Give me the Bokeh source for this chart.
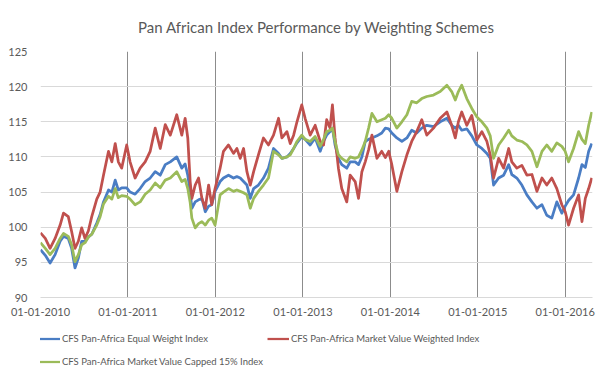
import pandas as pd
from bokeh.plotting import figure
from bokeh.layouts import column
from bokeh.models import Legend, LegendItem, FixedTicker, DatetimeTickFormatter, Range1d
from bokeh.embed import file_html
from bokeh.resources import INLINE

title_text = "Pan African Index Performance by Weighting Schemes"
series_names = ["CFS Pan-Africa Equal Weight Index",
                "CFS Pan-Africa Market Value Weighted Index",
                "CFS Pan-Africa Market Value Capped 15% Index"]
series_colors = ["#4A7DC4", "#C0504D", "#9BBB59"]

dates = [
    "2010-01-01", "2010-01-21", "2010-02-10", "2010-03-03", "2010-03-24", "2010-04-07", "2010-04-27",
    "2010-05-11", "2010-05-25", "2010-06-08", "2010-06-22", "2010-07-06", "2010-07-20", "2010-08-03",
    "2010-08-24", "2010-09-07", "2010-09-21", "2010-10-12", "2010-10-26", "2010-11-09", "2010-11-22",
    "2010-12-06", "2010-12-27", "2011-01-10", "2011-01-31", "2011-02-21", "2011-03-14", "2011-04-04",
    "2011-04-25", "2011-05-16", "2011-06-06", "2011-06-27", "2011-07-24", "2011-08-14", "2011-08-28",
    "2011-09-08", "2011-09-18", "2011-09-25", "2011-10-09", "2011-10-23", "2011-11-06", "2011-11-20",
    "2011-12-04", "2011-12-17", "2011-12-31", "2012-01-21", "2012-02-04", "2012-02-25", "2012-03-17",
    "2012-03-31", "2012-04-14", "2012-04-28", "2012-05-12", "2012-05-26", "2012-06-09", "2012-06-29",
    "2012-07-20", "2012-08-10", "2012-08-31", "2012-09-21", "2012-10-05", "2012-10-26", "2012-11-09",
    "2012-11-23", "2012-12-07", "2012-12-27", "2013-01-10", "2013-01-31", "2013-02-21", "2013-03-14",
    "2013-03-28", "2013-04-10", "2013-04-24", "2013-05-04", "2013-05-15", "2013-05-29", "2013-06-12",
    "2013-07-03", "2013-07-17", "2013-08-07", "2013-08-21", "2013-09-04", "2013-09-18", "2013-10-02",
    "2013-10-16", "2013-11-06", "2013-11-26", "2013-12-11", "2013-12-25", "2014-01-07", "2014-01-28",
    "2014-02-18", "2014-03-11", "2014-03-31", "2014-04-21", "2014-05-12", "2014-06-02", "2014-06-30",
    "2014-07-28", "2014-08-25", "2014-09-14", "2014-09-29", "2014-10-12", "2014-10-26", "2014-11-16",
    "2014-12-07", "2014-12-28", "2015-01-18", "2015-02-08", "2015-02-22", "2015-03-08", "2015-03-29",
    "2015-04-19", "2015-05-10", "2015-05-23", "2015-06-13", "2015-07-04", "2015-07-25", "2015-08-15",
    "2015-09-05", "2015-09-26", "2015-10-16", "2015-11-06", "2015-11-27", "2015-12-18", "2016-01-01",
    "2016-01-15", "2016-02-05", "2016-02-26", "2016-03-11", "2016-03-25", "2016-04-08", "2016-04-21",
]

equal_weight = [
    96.8, 96.0, 94.9, 96.1, 98.0, 98.7, 98.4,
    97.0, 94.2, 95.6, 98.0, 98.0, 98.6, 99.0,
    100.6, 101.8, 103.6, 105.3, 105.0, 106.7, 105.3,
    105.6, 105.6, 105.0, 104.7, 105.5, 106.5, 107.0,
    107.9, 107.4, 108.9, 109.3, 110.0, 108.4, 109.0,
    107.4, 105.0, 102.7, 103.6, 103.9, 104.1, 102.2,
    103.0, 103.2, 105.1, 106.5, 107.0, 107.4, 107.0,
    107.2, 107.0, 106.5, 106.0, 104.1, 105.5, 106.0,
    107.0, 108.4, 111.2, 110.5, 109.8, 110.0, 110.5,
    111.2, 112.0, 112.9, 112.5, 111.7, 112.7, 110.8,
    112.2, 113.1, 113.6, 114.1, 111.7, 109.8, 108.9,
    108.4, 109.3, 109.3, 108.9, 110.0, 112.2, 112.5,
    112.7, 113.0, 113.4, 114.1, 114.0, 113.4, 112.7,
    112.2, 112.7, 113.8, 113.4, 114.1, 114.5, 114.3,
    115.0, 115.5, 114.5, 114.1, 114.5, 113.8, 114.0,
    113.0, 111.7, 111.2, 110.5, 109.8, 106.0, 107.0,
    107.4, 108.9, 107.5, 107.0, 106.0, 104.6, 103.6,
    102.7, 103.2, 101.7, 101.3, 103.6, 102.0, 103.0,
    103.8, 104.6, 107.0, 108.9, 108.5, 110.8, 111.9,
]

market_value = [
    99.2, 98.4, 97.0, 98.4, 100.3, 102.0, 101.5,
    99.4, 97.0, 98.0, 99.9, 98.4, 99.5, 101.5,
    104.0, 105.0, 107.4, 110.8, 109.3, 111.9, 109.3,
    108.4, 111.7, 109.3, 107.0, 108.4, 109.3, 110.8,
    114.1, 111.2, 114.6, 113.1, 116.0, 113.1, 115.5,
    112.7, 106.5, 104.1, 106.0, 107.0, 104.1, 102.7,
    106.0, 103.2, 105.5, 108.4, 110.8, 111.7, 110.5,
    111.2, 109.8, 111.2, 107.9, 106.0, 107.9, 110.3,
    112.7, 111.7, 113.1, 115.5, 112.7, 113.6, 111.9,
    113.1, 115.0, 117.4, 115.5, 113.1, 114.5, 112.2,
    111.7, 115.3, 114.1, 117.4, 112.7, 108.4, 105.5,
    103.6, 107.4, 106.5, 104.1, 107.9, 109.3, 111.0,
    113.1, 109.8, 110.8, 109.9, 110.8, 108.9, 105.1,
    107.9, 110.3, 112.2, 113.6, 115.3, 113.1, 114.1,
    115.5, 116.4, 114.5, 112.7, 115.0, 116.4, 114.5,
    115.9, 112.4, 113.6, 112.2, 110.3, 107.0, 109.8,
    108.4, 111.2, 109.3, 108.4, 108.8, 107.4, 107.5,
    105.1, 107.0, 106.0, 107.0, 105.5, 103.2, 102.2,
    100.3, 102.7, 104.6, 100.8, 104.1, 105.5, 107.0,
]

capped_15 = [
    97.8, 97.0, 96.1, 97.0, 98.4, 99.1, 98.7,
    97.5, 95.1, 96.1, 97.5, 97.8, 98.6, 99.0,
    100.3, 101.5, 103.3, 104.4, 104.0, 105.5, 104.2,
    104.5, 104.4, 104.0, 103.2, 103.6, 104.7, 105.3,
    106.3, 105.6, 106.7, 107.0, 107.9, 106.5, 106.8,
    105.5, 103.5, 101.3, 99.9, 100.5, 100.8, 100.3,
    101.0, 101.3, 100.3, 104.6, 105.0, 105.5, 105.1,
    105.3, 105.1, 104.9, 104.6, 102.7, 104.1, 105.1,
    106.0, 107.0, 110.8, 110.3, 109.8, 110.0, 110.3,
    111.2, 112.2, 113.1, 112.5, 112.2, 112.9, 111.5,
    112.5, 113.6, 113.8, 114.1, 112.2, 110.3, 109.8,
    109.3, 110.0, 109.8, 110.0, 111.0, 112.2, 114.1,
    116.2, 115.0, 115.3, 115.5, 116.0, 115.5, 114.1,
    115.0, 116.0, 117.9, 117.7, 118.3, 118.6, 118.8,
    119.3, 120.2, 119.3, 118.1, 119.3, 120.2, 118.3,
    116.9, 115.7, 115.0, 114.1, 113.0, 109.8, 111.7,
    112.7, 113.8, 113.0, 112.4, 112.2, 111.7, 110.8,
    108.6, 110.8, 111.7, 110.8, 112.0, 111.5, 110.8,
    109.3, 111.2, 113.6, 112.5, 111.9, 114.5, 116.4,
]

year_ticks = ["2010-01-01", "2011-01-01", "2012-01-01", "2013-01-01",
              "2014-01-01", "2015-01-01", "2016-01-01"]
y_ticks = [90, 95, 100, 105, 110, 115, 120, 125]
x_start, x_end = "2010-01-01", "2016-04-24"

FONT = "Lato"
TXT = "#595959"

x = pd.to_datetime(dates)
tick_dt = pd.to_datetime(year_ticks)
tick_ms = [t.value / 1e6 for t in tick_dt]

# ---------------- main chart ----------------
p = figure(frame_width=552, frame_height=246, x_axis_type="datetime",
           output_backend="svg", toolbar_location=None,
           x_range=Range1d(pd.Timestamp(x_start), pd.Timestamp(x_end)),
           y_range=Range1d(min(y_ticks), max(y_ticks)),
           min_border_left=40, min_border_right=7, min_border_top=50, min_border_bottom=0)

p.title.text = title_text
p.title.align = "center"
p.title.text_font = FONT
p.title.text_font_size = "15px"
p.title.text_font_style = "normal"
p.title.text_color = TXT
p.title.offset = 0
p.title.standoff = 31

p.outline_line_color = None
p.background_fill_color = "white"
p.border_fill_color = "white"

p.xaxis.ticker = FixedTicker(ticks=tick_ms)
p.xaxis.formatter = DatetimeTickFormatter(days="%d-%m-%Y", months="%d-%m-%Y", years="%d-%m-%Y")
p.yaxis.ticker = FixedTicker(ticks=y_ticks)
for ax in (p.xaxis, p.yaxis):
    ax.major_tick_line_color = None
    ax.minor_tick_line_color = None
    ax.major_label_text_font = FONT
    ax.major_label_text_font_size = "11px"
    ax.major_label_text_color = TXT
p.xaxis.axis_line_color = "#D9D9D9"
p.yaxis.axis_line_color = None
p.xaxis.major_label_standoff = 4
p.yaxis.major_label_standoff = 7

p.xgrid.grid_line_color = "#8C8C8C"
p.xgrid.grid_line_width = 1
p.ygrid.grid_line_color = "#D9D9D9"
p.ygrid.grid_line_width = 1

series = [equal_weight, market_value, capped_15]
for vals, col in zip(series, series_colors):
    p.line(x, vals, line_color=col, line_width=2.75, line_join="round")

# ---------------- legend strip below the chart ----------------
leg = figure(width=599, height=65, x_axis_type="datetime",
             output_backend="svg", toolbar_location=None,
             x_range=Range1d(pd.Timestamp(x_start), pd.Timestamp(x_end)),
             y_range=Range1d(0, 1), min_border=0)
leg.axis.visible = False
leg.grid.visible = False
leg.outline_line_color = None
leg.background_fill_color = "white"
leg.border_fill_color = "white"

leg_renderers = []
for vals, col in zip(series, series_colors):
    # same series; they fall outside this strip's 0..1 range, so only their legend swatches show
    r = leg.line(x, vals, line_color=col, line_width=2.25)
    leg_renderers.append(r)

legend = Legend(items=[LegendItem(label=n, renderers=[r]) for n, r in zip(series_names, leg_renderers)],
                ncols=2, location=(-2, 12), orientation="horizontal",
                label_text_font=FONT, label_text_font_size="9.5px", label_text_color=TXT,
                glyph_width=22, glyph_height=19, label_standoff=2, spacing=4,
                padding=0, margin=0, border_line_color=None, background_fill_alpha=0,
                label_height=19)
leg.add_layout(legend, "center")

layout = column(p, leg, spacing=0)
open("out.html", "w").write(file_html(layout, INLINE))
